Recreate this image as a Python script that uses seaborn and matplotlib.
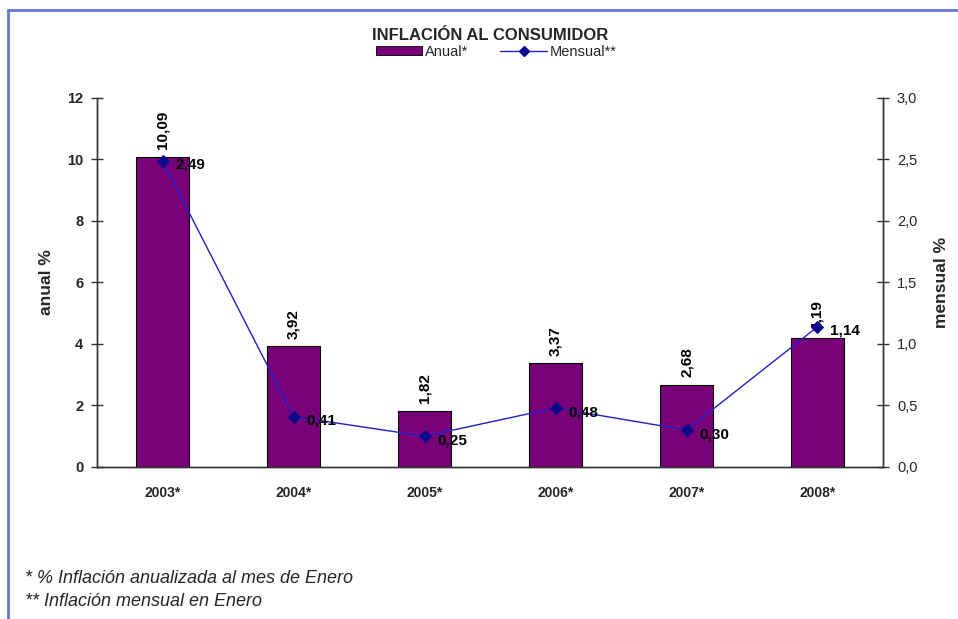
import numpy as np
import pandas as pd
import matplotlib
matplotlib.use("Agg")
import matplotlib.pyplot as plt
from matplotlib.lines import Line2D
from matplotlib.patches import Patch
import seaborn as sns

# Datos
anios = ["2003*", "2004*", "2005*", "2006*", "2007*", "2008*"]
anual = [10.09, 3.92, 1.82, 3.37, 2.68, 4.19]
mensual = [2.49, 0.41, 0.25, 0.48, 0.30, 1.14]
anual_ticks = [0, 2, 4, 6, 8, 10, 12]
mensual_ticks = [0.0, 0.5, 1.0, 1.5, 2.0, 2.5, 3.0]

sns.set_theme(style="white")
plt.rcParams["font.family"] = ["Liberation Sans", "DejaVu Sans"]

PURPLE = "#780078"
LINE_BLUE = "#2020c8"
MARK_BLUE = "#0a0a8a"

def coma(v, dec):
    return f"{v:.{dec}f}".replace(".", ",")

df = pd.DataFrame({"anio": anios, "anual": anual, "mensual": mensual})
df["pos"] = np.arange(len(df))

fig = plt.figure(figsize=(9.58, 6.19), dpi=100)
ax = fig.add_axes([0.1013, 0.2456, 0.8204, 0.5961])

sns.barplot(data=df, x="anio", y="anual", ax=ax, color=PURPLE, saturation=1,
            width=0.405, edgecolor="black", linewidth=0.8)
ax.set_xlim(-0.5, len(anios) - 0.5)
ax.set_ylim(0, 12)
ax.set_yticks(anual_ticks)
ax.set_yticklabels([str(t) for t in anual_ticks], fontsize=10.5, fontweight="bold")
ax.set_xlabel("")
ax.set_ylabel("anual %", fontsize=12.5, fontweight="bold", labelpad=9)
ax.set_xticks(df["pos"])
ax.set_xticklabels(anios, fontsize=10, fontweight="bold")
ax.set_xticks(np.arange(-0.5, len(anios)), minor=True)
ax.tick_params(axis="x", which="major", length=0, pad=14)
ax.tick_params(axis="x", which="minor", length=8, direction="inout", width=1, color="#333333")
ax.tick_params(axis="y", length=8, direction="inout", width=1, color="#333333", left=True, pad=6)

for p, v in zip(df["pos"], df["anual"]):
    ax.text(p, v + 0.25, coma(v, 2), rotation=90, ha="center", va="bottom",
            fontsize=11, fontweight="bold", color="black")

ax2 = ax.twinx()
sns.lineplot(data=df, x="pos", y="mensual", ax=ax2, color=LINE_BLUE, linewidth=1,
             marker="D", markersize=6, markerfacecolor=MARK_BLUE,
             markeredgecolor=MARK_BLUE)
ax2.set_ylim(0, 3)
ax2.set_yticks(mensual_ticks)
ax2.set_yticklabels([coma(t, 1) for t in mensual_ticks], fontsize=10.5)
ax2.set_ylabel("mensual %", fontsize=12.5, fontweight="bold", labelpad=12)
ax2.yaxis.set_label_position("right")
ax2.tick_params(axis="y", length=8, direction="inout", width=1, color="#333333", right=True, pad=6)
ax2.set_xlim(-0.5, len(anios) - 0.5)
ax2.set_xlabel("")

for p, v in zip(df["pos"], df["mensual"]):
    ax2.annotate(coma(v, 2), (p, v), xytext=(9, -3), textcoords="offset points",
                 ha="left", va="center", fontsize=11, fontweight="bold", color="black")

for a in (ax, ax2):
    a.grid(False)
    a.spines["top"].set_visible(False)
    for s in ("left", "right", "bottom"):
        a.spines[s].set_color("#333333")
        a.spines[s].set_linewidth(1)

fig.text(0.512, 0.943, "INFLACIÓN AL CONSUMIDOR", ha="center", va="center",
         fontsize=12, fontweight="bold")

handles = [Patch(facecolor=PURPLE, edgecolor="black", linewidth=0.6, label="Anual*"),
           Line2D([0], [0], color=LINE_BLUE, linewidth=1, marker="D", markersize=5,
                  markerfacecolor=MARK_BLUE, markeredgecolor=MARK_BLUE, label="Mensual**")]
fig.legend(handles=handles, loc="center", bbox_to_anchor=(0.518, 0.916), ncol=2,
           frameon=False, fontsize=10.5, handlelength=3.2, handleheight=0.6,
           columnspacing=2.2, handletextpad=0.2, borderpad=0)

fig.text(0.026, 0.066, "* % Inflación anualizada al mes de Enero", ha="left", va="center",
         fontsize=13, style="italic")
fig.text(0.026, 0.029, "** Inflación mensual en Enero", ha="left", va="center",
         fontsize=13, style="italic")

# marco azul
frame_col = "#6874dc"
fig.add_artist(Line2D([8 / 958, 1.0], [1 - 10 / 619, 1 - 10 / 619], transform=fig.transFigure,
                      color=frame_col, linewidth=2))
fig.add_artist(Line2D([8 / 958, 8 / 958], [0, 1 - 10 / 619], transform=fig.transFigure,
                      color=frame_col, linewidth=2))

fig.savefig("out.png", dpi=100)
